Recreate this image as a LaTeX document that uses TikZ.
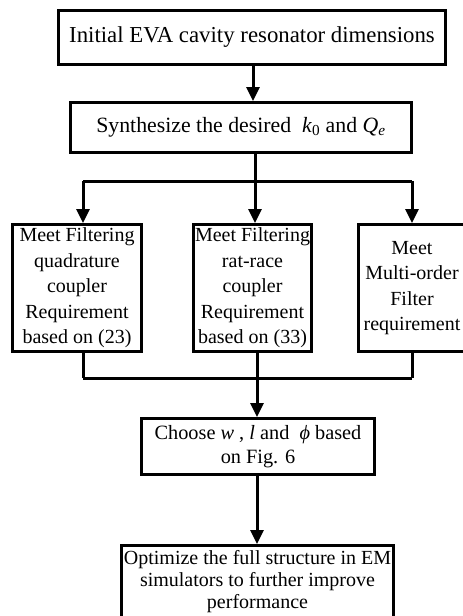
\documentclass[tikz,border=0pt]{standalone}
\usepackage{fontspec}
\setmainfont{Liberation Serif}
\usetikzlibrary{arrows.meta}
\begin{document}
\begin{tikzpicture}[x=1pt,y=-1pt,
  box/.style={draw,line width=3pt,align=center,inner sep=2pt,font=\fontsize{20}{25.5}\selectfont},
  arr/.style={line width=3pt,-{Triangle[length=14pt,width=13pt]}},
  ln/.style={line width=3pt}]
\useasboundingbox (0,0) rectangle (463,616);
\node[box,minimum width=387pt,minimum height=54pt,font=\fontsize{22.8}{27}\selectfont] (b1) at (252,37.5) {Initial EVA cavity resonator dimensions};
\node[box,minimum width=341pt,minimum height=50pt,font=\fontsize{21.8}{26}\selectfont] (b2) at (241,127.5) {Synthesize the desired \ \textit{k}\textsubscript{0} and \textit{Q}\textsubscript{\textit{e}}};
\node[box,minimum width=129pt,minimum height=127pt] (b3a) at (77,288) {Meet Filtering\\quadrature\\coupler\\Requirement\\based on (23)};
\node[box,minimum width=118pt,minimum height=127pt] (b3b) at (252.5,288) {Meet Filtering\\rat-race\\coupler\\Requirement\\based on (33)};
\node[box,minimum width=108pt,minimum height=127pt] (b3c) at (412,288) {Meet\\Multi-order\\Filter\\requirement};
\node[box,minimum width=233pt,minimum height=56pt,font=\fontsize{20.3}{24.5}\selectfont] (b4) at (258,446.5) {Choose \textit{w} , \textit{l} and \ \textit{ϕ} based\\on Fig. 6};
\node[box,minimum width=272pt,minimum height=72pt,inner sep=0pt,font=\fontsize{20}{22}\selectfont] (b5) at (257.5,581.5) {Optimize the full structure in EM\\simulators to further improve\\performance};
\coordinate (s) at (255,181);
\coordinate (sL) at (83,181);
\coordinate (sR) at (412,181);
\coordinate (m) at (257,378);
\coordinate (mL) at (83,378);
\coordinate (mR) at (412,378);
\draw[arr] (b1.south -| 253,0) -- (b2.north -| 253,0);
\draw[ln] (b2.south -| s) -- (s);
\draw[ln] (sL) -- (sR);
\draw[arr] (sL) -- (sL |- b3a.north);
\draw[arr] (s) -- (s |- b3b.north);
\draw[arr] (sR) -- (sR |- b3c.north);
\draw[ln] (b3a.south -| mL) -- (mL);
\draw[ln] (b3b.south -| m) -- (m);
\draw[ln] (b3c.south -| mR) -- (mR);
\draw[ln] (mL) -- (mR);
\draw[arr] (m) -- (m |- b4.north);
\draw[arr] (b4.south -| m) -- (m |- b5.north);
\end{tikzpicture}
\end{document}
